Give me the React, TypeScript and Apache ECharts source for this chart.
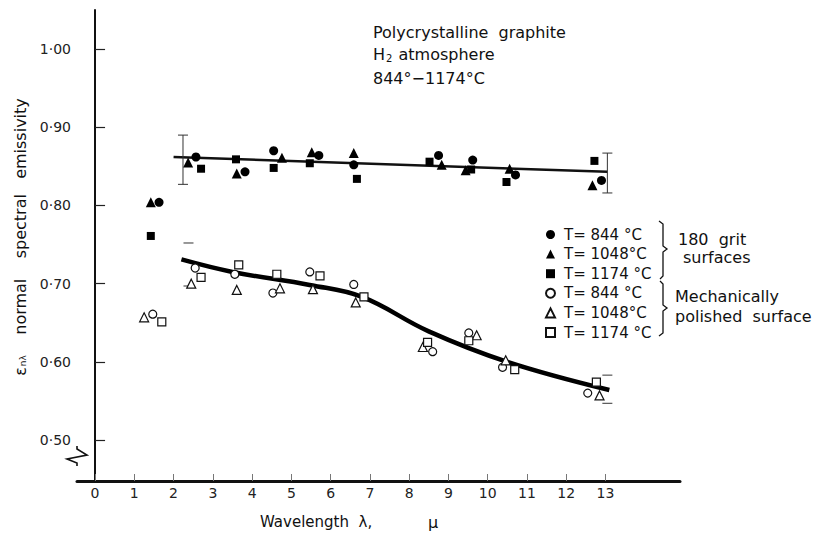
import React, { useEffect, useRef } from "react";
import * as echarts from "echarts";

// ---- data ----
const X_TICKS = [0, 1, 2, 3, 4, 5, 6, 7, 8, 9, 10, 11, 12, 13];
const Y_TICKS = [0.5, 0.6, 0.7, 0.8, 0.9, 1.0];

// 180 grit surfaces (filled)
const gritC_x = [1.63, 2.57, 3.82, 4.55, 5.7, 6.59, 8.75, 9.62, 10.71, 12.9];
const gritC_y = [0.804, 0.862, 0.843, 0.87, 0.864, 0.852, 0.864, 0.858, 0.839, 0.832];
const gritT_x = [1.42, 2.37, 3.61, 4.76, 5.52, 6.59, 8.83, 9.44, 10.56, 12.67];
const gritT_y = [0.804, 0.855, 0.841, 0.861, 0.868, 0.867, 0.852, 0.845, 0.847, 0.826];
const gritS_x = [1.42, 2.7, 3.59, 4.55, 5.47, 6.67, 8.52, 9.58, 10.48, 12.72];
const gritS_y = [0.761, 0.847, 0.859, 0.848, 0.854, 0.834, 0.856, 0.846, 0.83, 0.857];

// mechanically polished surface (open)
const polC_x = [1.47, 2.55, 3.56, 4.53, 5.47, 6.59, 8.6, 9.52, 10.38, 12.55];
const polC_y = [0.661, 0.72, 0.712, 0.688, 0.715, 0.699, 0.613, 0.637, 0.593, 0.56];
const polT_x = [1.25, 2.45, 3.61, 4.71, 5.55, 6.64, 8.35, 9.72, 10.46, 12.85];
const polT_y = [0.657, 0.7, 0.692, 0.694, 0.693, 0.676, 0.619, 0.634, 0.602, 0.557];
const polS_x = [1.7, 2.7, 3.66, 4.63, 5.73, 6.85, 8.47, 9.52, 10.69, 12.77];
const polS_y = [0.651, 0.708, 0.724, 0.712, 0.71, 0.683, 0.625, 0.627, 0.59, 0.574];

// fitted lines
const gritFit_x = [2.0, 13.05];
const gritFit_y = [0.862, 0.843];
const polFit_x = [2.2, 3.5, 5.5, 6.8, 8.5, 10.5, 13.1];
const polFit_y = [0.731, 0.715, 0.698, 0.683, 0.639, 0.6, 0.564];

// error bars
const gritErr_x = [2.24, 13.05];
const gritErr_lo = [0.827, 0.816];
const gritErr_hi = [0.89, 0.867];
const polErr_x = [2.38, 13.05];
const polErr_lo = [0.697, 0.547];
const polErr_hi = [0.752, 0.583];

const LEGEND_LABELS: Record<string, string> = {
  g844: "T= 844 °C",
  g1048: "T= 1048°C",
  g1174: "T= 1174 °C",
  p844: "T= 844 °C",
  p1048: "T= 1048°C",
  p1174: "T= 1174 °C",
};

const FONT = "DejaVu Sans";
const zip = (xs: number[], ys: number[]) => xs.map((x, i) => [x, ys[i]]);

export default function App() {
  const ref = useRef<HTMLDivElement>(null);
  useEffect(() => {
    document.body.style.margin = "0";
    const chart = echarts.init(ref.current!, undefined, { renderer: "svg" });

    const filled = (name: string, xs: number[], ys: number[], symbol: string, size: number) => ({
      name,
      type: "scatter",
      data: zip(xs, ys),
      symbol,
      symbolSize: size,
      itemStyle: { color: "#000", borderWidth: 0, opacity: 1 },
      z: 5,
    });
    const open = (name: string, xs: number[], ys: number[], symbol: string, size: number) => ({
      name,
      type: "scatter",
      data: zip(xs, ys),
      symbol,
      symbolSize: size,
      itemStyle: { color: "#fff", borderColor: "#111", borderWidth: 1.2, opacity: 1 },
      z: 6,
    });
    const errSeries = (xs: number[], lo: number[], hi: number[], showStem: boolean) => ({
      type: "custom",
      data: xs.map((x, i) => [x, lo[i], hi[i]]),
      z: 4,
      silent: true,
      renderItem: (_p: any, api: any) => {
        const a = api.coord([api.value(0), api.value(1)]);
        const b = api.coord([api.value(0), api.value(2)]);
        const st = { stroke: "#333", lineWidth: 1 };
        const children: any[] = [
          { type: "line", shape: { x1: a[0] - 5, y1: a[1], x2: a[0] + 5, y2: a[1] }, style: st },
          { type: "line", shape: { x1: b[0] - 5, y1: b[1], x2: b[0] + 5, y2: b[1] }, style: st },
        ];
        if (showStem) {
          children.push({ type: "line", shape: { x1: a[0], y1: a[1], x2: b[0], y2: b[1] }, style: st });
        }
        return { type: "group", children };
      },
    });

    const option: any = {
      animation: false,
      backgroundColor: "#fff",
      textStyle: { fontFamily: FONT },
      grid: { left: 77, right: 138, top: 10, bottom: 54, containLabel: false },
      xAxis: {
        type: "value",
        min: -0.46,
        max: 14.9,
        axisLine: { show: true, lineStyle: { color: "#111", width: 3 } },
        axisTick: { show: true, inside: true, length: 7, customValues: X_TICKS, lineStyle: { color: "#777", width: 1 } },
        axisLabel: { customValues: X_TICKS, fontSize: 14, color: "#222", margin: 5, fontFamily: FONT },
        splitLine: { show: false },
      },
      yAxis: {
        type: "value",
        min: 0.4476,
        max: 1.05,
        axisLine: { show: true, lineStyle: { color: "#111", width: 2 } },
        axisTick: { show: true, inside: true, length: 10, customValues: Y_TICKS, lineStyle: { color: "#222", width: 1.2 } },
        axisLabel: {
          customValues: Y_TICKS,
          fontSize: 14,
          color: "#222",
          margin: 6,
          fontFamily: FONT,
          formatter: (v: number) => v.toFixed(2).replace(".", "·"),
        },
        splitLine: { show: false },
      },
      legend: {
        orient: "vertical",
        left: 540,
        top: 221,
        itemWidth: 9,
        itemHeight: 9,
        itemGap: 2.6,
        data: ["g844", "g1048", "g1174", "p844", "p1048", "p1174"],
        formatter: (n: string) => LEGEND_LABELS[n],
        textStyle: { fontFamily: FONT, fontSize: 15, color: "#111", lineHeight: 17, padding: [0, 0, 0, 4] },
      },
      series: [
        {
          type: "line",
          data: zip(gritFit_x, gritFit_y),
          symbol: "none",
          lineStyle: { color: "#111", width: 2.5 },
          z: 3,
          silent: true,
        },
        {
          type: "line",
          data: zip(polFit_x, polFit_y),
          symbol: "none",
          smooth: 0.4,
          lineStyle: { color: "#000", width: 4.5 },
          z: 3,
          silent: true,
        },
        errSeries(gritErr_x, gritErr_lo, gritErr_hi, true),
        errSeries(polErr_x, polErr_lo, polErr_hi, false),
        filled("g844", gritC_x, gritC_y, "circle", 9),
        filled("g1048", gritT_x, gritT_y, "triangle", 10),
        filled("g1174", gritS_x, gritS_y, "rect", 8),
        open("p844", polC_x, polC_y, "circle", 8),
        open("p1048", polT_x, polT_y, "triangle", 9),
        open("p1174", polS_x, polS_y, "rect", 8),
      ],
      graphic: [
        // title block
        { type: "text", left: 373, top: 24, style: { text: "Polycrystalline  graphite", font: `16px "${FONT}"`, fill: "#111" } },
        {
          type: "text",
          left: 373,
          top: 46,
          style: {
            text: "{a|H}{s|2}{a| atmosphere}",
            rich: {
              a: { font: `16px "${FONT}"`, fill: "#111" },
              s: { font: `10px "${FONT}"`, fill: "#111", padding: [8, 1, 0, 1] },
            },
          },
        },
        { type: "text", left: 373, top: 70, style: { text: "844°−1174°C", font: `16px "${FONT}"`, fill: "#111" } },
        // y axis title
        {
          type: "text",
          x: 20,
          y: 237,
          rotation: Math.PI / 2,
          style: {
            text: "{a|ε}{s|nλ}{a|    normal    spectral   emissivity}",
            align: "center",
            verticalAlign: "middle",
            rich: {
              a: { font: `16px "${FONT}"`, fill: "#111" },
              s: { font: `9px "${FONT}"`, fill: "#111", padding: [6, 0, 0, 1] },
            },
          },
        },
        // x axis title
        { type: "text", left: 260, top: 514, style: { text: "Wavelength  λ,", font: `15px "${FONT}"`, fill: "#111" } },
        { type: "text", left: 428, top: 514, style: { text: "μ", font: `16px "${FONT}"`, fill: "#111" } },
        // axis break
        { type: "rect", shape: { x: 74, y: 449, width: 6, height: 14 }, style: { fill: "#fff" }, z: 100 },
        {
          type: "polyline",
          shape: { points: [[77, 446], [77, 449], [87, 455], [67, 459], [77, 463], [77, 466]] },
          style: { stroke: "#111", lineWidth: 1.6, fill: "none" },
          z: 101,
        },
        // braces
        {
          type: "polyline",
          shape: { points: [[659, 221], [663, 224], [663, 246], [667, 249], [663, 252], [663, 276], [660, 279]] },
          style: { stroke: "#111", lineWidth: 1.3, fill: "none" },
        },
        {
          type: "polyline",
          shape: { points: [[660, 281], [663, 284], [663, 305], [667, 308], [663, 311], [663, 333], [659, 336]] },
          style: { stroke: "#111", lineWidth: 1.3, fill: "none" },
        },
        { type: "text", left: 678, top: 231, style: { text: "180  grit", font: `16px "${FONT}"`, fill: "#111" } },
        { type: "text", left: 683, top: 249, style: { text: "surfaces", font: `16px "${FONT}"`, fill: "#111" } },
        { type: "text", left: 675, top: 288, style: { text: "Mechanically", font: `16px "${FONT}"`, fill: "#111" } },
        { type: "text", left: 675, top: 308, style: { text: "polished  surface", font: `16px "${FONT}"`, fill: "#111" } },
      ],
    };
    chart.setOption(option);
    return () => chart.dispose();
  }, []);
  return <div ref={ref} style={{ position: "fixed", left: 0, top: 0, width: 818, height: 535 }} />;
}
